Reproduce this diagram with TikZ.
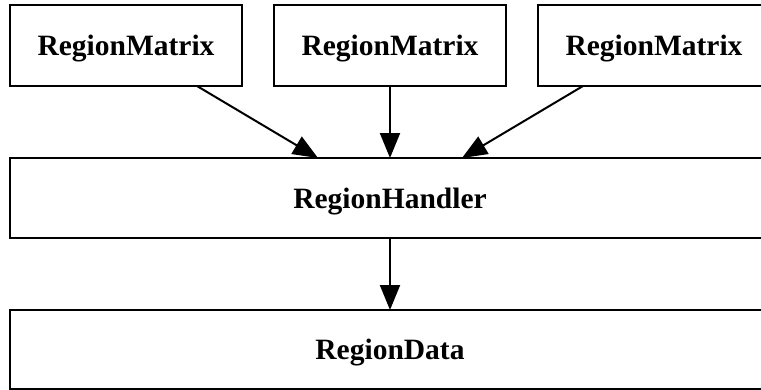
\documentclass[tikz,border=0pt]{standalone}
\usepackage{fontspec}
\setmainfont{Liberation Serif}
\usetikzlibrary{arrows.meta}
\begin{document}
\begin{tikzpicture}[x=1pt,y=1pt,
  box/.style={draw=black,line width=2pt,inner sep=0pt,outer sep=0pt,text depth=0pt,
    minimum height=81pt,font=\fontsize{29.5}{35}\selectfont\bfseries},
  arr/.style={line width=2pt,-{Triangle[length=25pt,width=20pt]}}]
\useasboundingbox (0,0) rectangle (761,-389);
\node[box,minimum width=232pt] (m1) at (126,-45.5) {RegionMatrix};
\node[box,minimum width=232pt] (m2) at (390,-45.5) {RegionMatrix};
\node[box,minimum width=232pt] (m3) at (654,-45.5) {RegionMatrix};
\node[box,minimum width=760pt,minimum height=80pt] (h) at (390,-198) {RegionHandler};
\node[box,minimum width=760pt,minimum height=79pt] (d) at (390,-349.5) {RegionData};
\draw[arr] ([xshift=-45pt]m1.south east) -- ([xshift=-72pt]h.north);
\draw[arr] (m2.south) -- (h.north);
\draw[arr] ([xshift=45pt]m3.south west) -- ([xshift=72pt]h.north);
\draw[arr] (h.south) -- (d.north);
\end{tikzpicture}
\end{document}
